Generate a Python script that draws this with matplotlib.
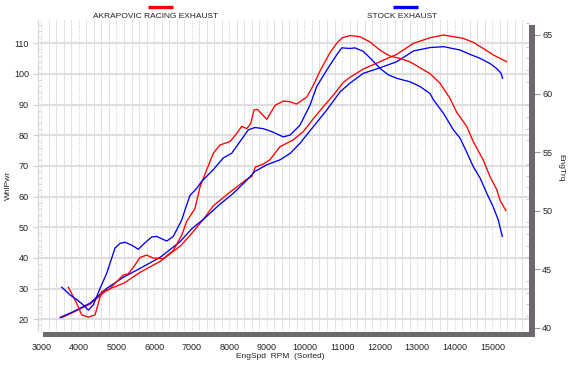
import matplotlib
matplotlib.use("Agg")
import matplotlib.pyplot as plt
from matplotlib.patches import Rectangle
from matplotlib.lines import Line2D
from matplotlib.ticker import MultipleLocator

plt.rcParams['font.family'] = ['Liberation Sans', 'DejaVu Sans']

# ---------------- data ----------------
akra_pwr_rpm = [3550, 3850, 4300, 4750, 5200, 5650, 6150, 6700, 7000, 7300, 7575, 8020, 8460,
                8600, 8690, 8900, 9080, 9350, 9700, 9970, 10235, 10500, 10770, 11030, 11200,
                11565, 12010, 12455, 12900, 13340, 13700, 14225, 14490, 14757, 15023, 15200, 15380]
akra_pwr = [20.6, 22.3, 25.0, 29.6, 31.8, 35.5, 38.8, 43.9, 48.0, 52.4, 57.0, 61.5, 65.6,
            66.6, 69.6, 70.6, 72.0, 76.3, 78.5, 81.2, 85.4, 89.3, 93.1, 97.2, 98.8,
            101.6, 104.0, 106.4, 110.0, 111.8, 112.7, 111.6, 110.3, 108.3, 106.2, 105.1, 104.0]

stock_pwr_rpm = [3500, 3850, 4300, 4740, 5180, 5625, 6160, 6690, 7000, 7310, 7750, 8110, 8460,
                 8680, 9000, 9350, 9620, 9880, 10235, 10590, 10950, 11210, 11565, 12010, 12455,
                 12900, 13340, 13700, 14138, 14400, 14670, 14935, 15113, 15230, 15270]
stock_pwr = [20.6, 22.5, 25.3, 30.1, 33.7, 36.6, 40.2, 45.3, 49.5, 52.6, 57.5, 61.1, 65.3,
             68.2, 70.4, 72.0, 74.1, 77.4, 82.8, 88.2, 94.2, 97.0, 100.2, 102.0, 104.0,
             107.5, 108.6, 108.9, 107.8, 106.4, 105.1, 103.4, 101.8, 100.2, 98.6]

akra_trq_rpm = [3720, 3940, 4075, 4250, 4430, 4607, 4780, 4960, 5180, 5315, 5490, 5625, 5800,
                5980, 6245, 6510, 6735, 6870, 7090, 7220, 7400, 7575, 7750, 8020, 8200, 8330,
                8465, 8570, 8660, 8745, 9000, 9220, 9440, 9620, 9790, 10060, 10235, 10410,
                10680, 10860, 11000, 11210, 11480, 11745, 12010, 12275, 12540, 12810, 13075,
                13340, 13600, 13870, 14050, 14315, 14490, 14760, 14935, 15115, 15200, 15360]
akra_trq = [43.45, 42.1, 41.1, 40.9, 41.1, 43.1, 43.2, 43.8, 44.5, 44.6, 45.35, 46.0, 46.2,
            45.95, 45.9, 46.6, 47.9, 49.1, 50.2, 52.0, 53.5, 54.9, 55.6, 55.9, 56.6, 57.2,
            57.0, 57.45, 58.6, 58.65, 57.8, 59.0, 59.36, 59.3, 59.1, 59.7, 60.7, 61.9,
            63.5, 64.3, 64.75, 64.95, 64.85, 64.4, 63.7, 63.2, 63.0, 62.7, 62.2,
            61.7, 60.9, 59.6, 58.4, 57.2, 55.9, 54.3, 52.9, 51.8, 50.9, 50.0]

stock_trq_rpm = [3543, 3600, 3763, 3942, 4117, 4250, 4383, 4561, 4740, 4960, 5093, 5226, 5405,
                 5580, 5758, 5937, 6070, 6336, 6511, 6735, 6868, 6955, 7134, 7267, 7575, 7841,
                 8065, 8285, 8506, 8684, 8905, 9129, 9437, 9616, 9881, 10147, 10326, 10592,
                 10857, 10990, 11212, 11344, 11565, 11789, 12010, 12230, 12455, 12808, 13074,
                 13340, 13434, 13700, 13961, 14138, 14315, 14491, 14669, 14847, 15023, 15156, 15262]
stock_trq = [43.45, 43.3, 42.8, 42.4, 41.95, 41.5, 41.95, 43.35, 44.65, 46.8, 47.2, 47.3, 47.05,
             46.7, 47.25, 47.75, 47.8, 47.4, 47.8, 49.2, 50.5, 51.3, 51.9, 52.5, 53.5, 54.5,
             54.9, 55.9, 56.9, 57.1, 57.0, 56.75, 56.3, 56.45, 57.3, 59.0, 60.6, 62.0,
             63.3, 63.9, 63.85, 63.9, 63.6, 62.9, 62.15, 61.6, 61.3, 61.0, 60.6,
             60.0, 59.45, 58.3, 56.9, 56.2, 55.0, 53.75, 52.8, 51.5, 50.3, 49.2, 47.8]

x_ticks = list(range(3000, 16000, 1000))
pwr_ticks = list(range(20, 120, 10))
trq_ticks = [40, 45, 50, 55, 60, 65]

series_names = ["AKRAPOVIC RACING EXHAUST", "STOCK EXHAUST"]
RED = '#ff0000'
BLUE = '#0000f0'

# ---------------- figure ----------------
W, H = 570, 366
fig = plt.figure(figsize=(W / 100, H / 100), dpi=100)
fig.patch.set_facecolor('white')

def fx(px):
    return px / W

def fy(py):
    return 1 - py / H

L, R, T, B = 38, 529, 20, 331
ax = fig.add_axes([fx(L), fy(B), (R - L) / W, (B - T) / H])
ax.set_xlim(2912, 15973)
ax.set_ylim(16.19, 117.59)

ax.set_xticks(x_ticks)
ax.set_xticklabels([str(v) for v in x_ticks])
ax.xaxis.set_minor_locator(MultipleLocator(200))
ax.set_yticks(pwr_ticks)
ax.yaxis.set_minor_locator(MultipleLocator(2))

ax.grid(which='minor', axis='x', color='#e3e3e3', lw=0.75)
ax.grid(which='major', axis='x', color='#cfcfcf', lw=0.75, ls=(0, (1, 1.5)))
ax.grid(which='major', axis='y', color='#dedede', lw=1.5)
ax.set_axisbelow(True)

for s in ['top', 'right', 'bottom']:
    ax.spines[s].set_visible(False)
ax.spines['left'].set_color('#d6d6d6')
ax.spines['left'].set_linewidth(0.8)

ax.tick_params(axis='x', which='both', length=0, pad=9, labelsize=6.5, colors='#222222')
ax.tick_params(axis='y', which='major', direction='out', length=3.5, width=0.8,
               color='#cfcfcf', pad=3, labelsize=6.5, labelcolor='#222222')
ax.tick_params(axis='y', which='minor', direction='in', length=2.2, width=0.6, color='#cfcfcf')

ax.plot(akra_pwr_rpm, akra_pwr, color=RED, lw=0.95, zorder=3)
ax.plot(stock_pwr_rpm, stock_pwr, color=BLUE, lw=0.95, zorder=3)

ax2 = ax.twinx()
ax2.set_ylim(39.72, 66.28)
ax2.set_yticks(trq_ticks)
ax2.yaxis.set_minor_locator(MultipleLocator(1))
for s in ax2.spines.values():
    s.set_visible(False)
ax2.tick_params(axis='y', which='major', direction='out', length=8, width=0.8,
                color='#9a9a9a', pad=1.5, labelsize=6.5, labelcolor='#222222')
ax2.tick_params(axis='y', which='minor', direction='in', length=2, width=0.6, color='#b8b8b8')

ax2.plot(akra_trq_rpm, akra_trq, color=RED, lw=0.95, zorder=3)
ax2.plot(stock_trq_rpm, stock_trq, color=BLUE, lw=0.95, zorder=3)

# dark frame bars (bottom and right)
bar_col = '#6c686e'
fig.add_artist(Rectangle((fx(43), fy(337)), (535 - 43) / W, 5.5 / H,
                         transform=fig.transFigure, facecolor=bar_col, edgecolor='none', zorder=5))
fig.add_artist(Rectangle((fx(529), fy(337)), 6 / W, (337 - 25) / H,
                         transform=fig.transFigure, facecolor=bar_col, edgecolor='none', zorder=5))

# axis labels
fig.text(fx(280), fy(356), "EngSpd  RPM  (Sorted)", ha='center', va='center', fontsize=6.0,
         color='#222222')
fig.text(fx(8), fy(185), "WhlPwr", ha='center', va='center', rotation=90, fontsize=6.0,
         color='#222222')
fig.text(fx(561), fy(168), "EngTrq", ha='center', va='center', rotation=270, fontsize=6.0,
         color='#222222')

# legend-like headers
fig.add_artist(Line2D([fx(148), fx(173)], [fy(6.5), fy(6.5)], transform=fig.transFigure,
                      color=RED, lw=2.4, solid_capstyle='butt'))
fig.text(fx(155.5), fy(16), series_names[0], ha='center', va='center', fontsize=6.0, color='#222222')
fig.add_artist(Line2D([fx(393), fx(418)], [fy(6.5), fy(6.5)], transform=fig.transFigure,
                      color=BLUE, lw=2.4, solid_capstyle='butt'))
fig.text(fx(402), fy(16), series_names[1], ha='center', va='center', fontsize=6.0, color='#222222')

fig.savefig("out.png", dpi=100)
